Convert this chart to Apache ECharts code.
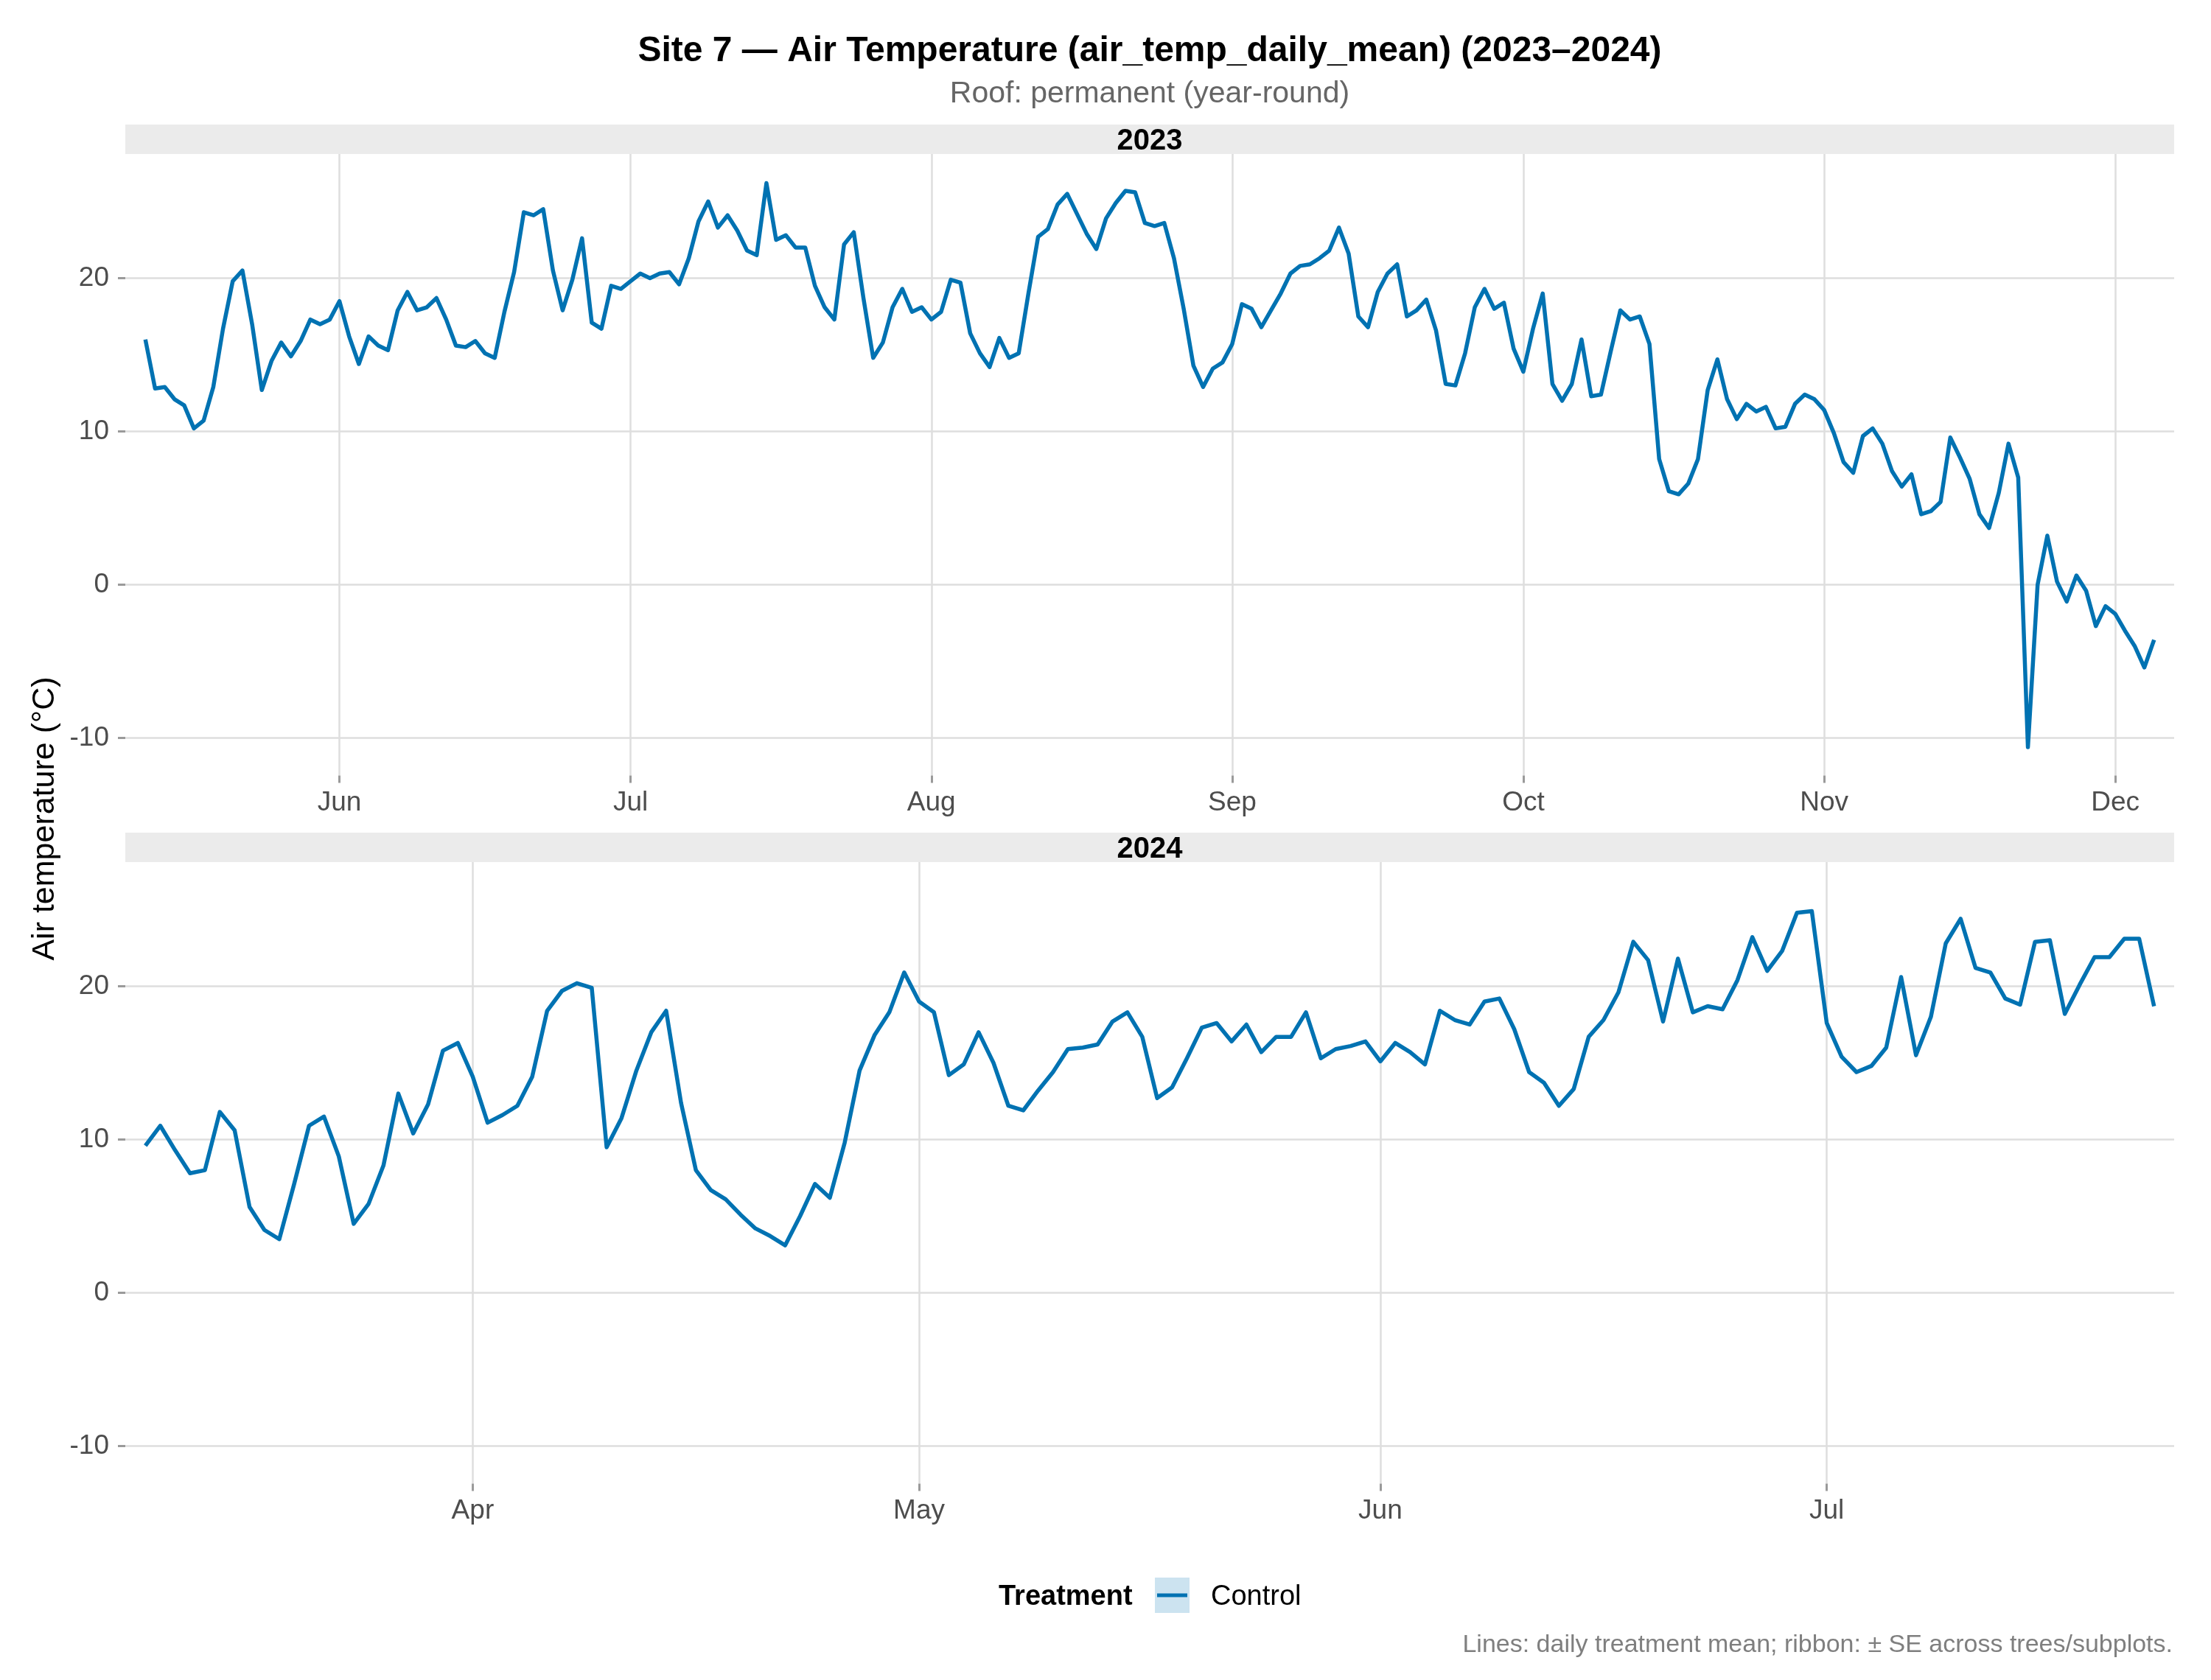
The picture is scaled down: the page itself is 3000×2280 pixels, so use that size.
<!DOCTYPE html>
<html>
<head>
<meta charset="utf-8">
<title>Site 7 - Air Temperature</title>
<script src="https://cdn.jsdelivr.net/npm/echarts@6/dist/echarts.min.js"></script>
<style>
  html, body { margin: 0; padding: 0; background: #fff; }
  #chart { width: 3000px; height: 2280px; }
</style>
</head>
<body>
<div id="chart"></div>
<script>
// daily treatment mean (Control), one value per day from the start date
const start2023 = '2023-05-12'
const temp2023 = [
  16.0, 12.8, 12.9, 12.1, 11.7, 10.2, 10.7, 12.9, 16.7, 19.8,
  20.5, 17.0, 12.7, 14.6, 15.8, 14.9, 15.9, 17.3, 17.0, 17.3,
  18.5, 16.2, 14.4, 16.2, 15.6, 15.3, 17.9, 19.1, 17.9, 18.1,
  18.7, 17.3, 15.6, 15.5, 15.9, 15.1, 14.8, 17.8, 20.4, 24.3,
  24.1, 24.5, 20.5, 17.9, 19.9, 22.6, 17.1, 16.7, 19.5, 19.3,
  19.8, 20.3, 20.0, 20.3, 20.4, 19.6, 21.3, 23.7, 25.0, 23.3,
  24.1, 23.1, 21.8, 21.5, 26.2, 22.5, 22.8, 22.0, 22.0, 19.5,
  18.1, 17.3, 22.2, 23.0, 18.7, 14.8, 15.8, 18.1, 19.3, 17.8,
  18.1, 17.3, 17.8, 19.9, 19.7, 16.4, 15.1, 14.2, 16.1, 14.8,
  15.1, 19.0, 22.7, 23.2, 24.8, 25.5, 24.2, 22.9, 21.9, 23.9,
  24.9, 25.7, 25.6, 23.6, 23.4, 23.6, 21.3, 18.0, 14.3, 12.9,
  14.1, 14.5, 15.7, 18.3, 18.0, 16.8, 17.9, 19.0, 20.3, 20.8,
  20.9, 21.3, 21.8, 23.3, 21.6, 17.5, 16.8, 19.1, 20.3, 20.9,
  17.5, 17.9, 18.6, 16.6, 13.1, 13.0, 15.1, 18.1, 19.3, 18.0,
  18.4, 15.4, 13.9, 16.7, 19.0, 13.1, 12.0, 13.1, 16.0, 12.3,
  12.4, 15.2, 17.9, 17.3, 17.5, 15.7, 8.2, 6.1, 5.9, 6.6,
  8.2, 12.7, 14.7, 12.1, 10.8, 11.8, 11.3, 11.6, 10.2, 10.3,
  11.8, 12.4, 12.1, 11.4, 9.9, 8.0, 7.3, 9.7, 10.2, 9.2,
  7.4, 6.4, 7.2, 4.6, 4.8, 5.4, 9.6, 8.3, 6.9, 4.6,
  3.7, 6.0, 9.2, 7.0, -10.6, 0.0, 3.2, 0.2, -1.1, 0.6,
  -0.4, -2.7, -1.4, -1.9, -3.0, -4.0, -5.4, -3.6
]

const start2024 = '2024-03-10'
const temp2024 = [
  9.6, 10.9, 9.3, 7.8, 8.0, 11.8, 10.6, 5.6, 4.1, 3.5,
  7.1, 10.9, 11.5, 8.9, 4.5, 5.8, 8.3, 13.0, 10.4, 12.3,
  15.8, 16.3, 14.1, 11.1, 11.6, 12.2, 14.1, 18.4, 19.7, 20.2,
  19.9, 9.5, 11.4, 14.5, 17.0, 18.4, 12.4, 8.0, 6.7, 6.1,
  5.1, 4.2, 3.7, 3.1, 5.0, 7.1, 6.2, 9.8, 14.5, 16.8,
  18.3, 20.9, 19.0, 18.3, 14.2, 14.9, 17.0, 15.0, 12.2, 11.9,
  13.2, 14.4, 15.9, 16.0, 16.2, 17.7, 18.3, 16.7, 12.7, 13.4,
  15.3, 17.3, 17.6, 16.4, 17.5, 15.7, 16.7, 16.7, 18.3, 15.3,
  15.9, 16.1, 16.4, 15.1, 16.3, 15.7, 14.9, 18.4, 17.8, 17.5,
  19.0, 19.2, 17.2, 14.4, 13.7, 12.2, 13.3, 16.7, 17.8, 19.6,
  22.9, 21.7, 17.7, 21.8, 18.3, 18.7, 18.5, 20.4, 23.2, 21.0,
  22.3, 24.8, 24.9, 17.6, 15.4, 14.4, 14.8, 16.0, 20.6, 15.5,
  18.0, 22.8, 24.4, 21.2, 20.9, 19.2, 18.8, 22.9, 23.0, 18.2,
  20.1, 21.9, 21.9, 23.1, 23.1, 18.7
]

const monthTicks2023 = ['2023-06-01', '2023-07-01', '2023-08-01', '2023-09-01', '2023-10-01', '2023-11-01', '2023-12-01']
const monthTicks2024 = ['2024-04-01', '2024-05-01', '2024-06-01', '2024-07-01']
const yTicks = [-10, 0, 10, 20]
const monthNames = ['Jan', 'Feb', 'Mar', 'Apr', 'May', 'Jun', 'Jul', 'Aug', 'Sep', 'Oct', 'Nov', 'Dec']

const FONT = 'Liberation Sans'
const BLUE = '#0072B2'
const GRID_COLOR = '#DEDEDE'
const TICK_COLOR = '#9A9A9A'
const LABEL_COLOR = '#4D4D4D'

function toTime(s) {
  const p = s.split('-').map(Number)
  return new Date(p[0], p[1] - 1, p[2]).getTime()
}

function dailySeries(start, values) {
  const first = new Date(toTime(start))
  return values.map((v, i) => {
    const d = new Date(first.getFullYear(), first.getMonth(), first.getDate() + i)
    return [d.getTime(), v]
  })
}

const panels = [
  { label: '2023', data: dailySeries(start2023, temp2023), ticks: monthTicks2023, top: 209 },
  { label: '2024', data: dailySeries(start2024, temp2024), ticks: monthTicks2024, top: 1170 }
]
const PANEL_LEFT = 170
const PANEL_WIDTH = 2780
const PANEL_HEIGHT = 843.5
const STRIP_HEIGHT = 40

const chart = echarts.init(document.getElementById('chart'), null, { renderer: 'canvas' })

const grid = []
const xAxis = []
const yAxis = []
const series = []
const graphic = []

panels.forEach((p, i) => {
  const first = p.data[0][0]
  const last = p.data[p.data.length - 1][0]
  const pad = (last - first) * 0.01
  const tickTimes = p.ticks.map(toTime)

  grid.push({ left: PANEL_LEFT, width: PANEL_WIDTH, top: p.top, height: PANEL_HEIGHT, containLabel: false })

  // dates kept as numeric timestamps on a value axis, labelled by month
  xAxis.push({
    type: 'value',
    gridIndex: i,
    position: 'bottom',
    min: first - pad,
    max: last + pad,
    axisLine: { show: false, onZero: false },
    axisTick: { show: true, customValues: tickTimes, length: 10, lineStyle: { color: TICK_COLOR, width: 3 } },
    axisLabel: {
      customValues: tickTimes,
      formatter: (v) => monthNames[new Date(v).getMonth()],
      fontFamily: FONT,
      fontSize: 37,
      color: LABEL_COLOR,
      margin: 19,
      hideOverlap: false
    },
    splitLine: { show: true, lineStyle: { color: GRID_COLOR, width: 2.5 } }
  })

  yAxis.push({
    type: 'value',
    gridIndex: i,
    position: 'left',
    min: -12.45,
    max: 28.1,
    axisLine: { show: false, onZero: false },
    axisTick: { show: true, customValues: yTicks, length: 10, lineStyle: { color: TICK_COLOR, width: 3 } },
    axisLabel: {
      customValues: yTicks,
      fontFamily: FONT,
      fontSize: 37,
      color: LABEL_COLOR,
      margin: 22
    },
    splitLine: { show: true, lineStyle: { color: GRID_COLOR, width: 2.5 } }
  })

  series.push({
    name: 'Control',
    type: 'line',
    xAxisIndex: i,
    yAxisIndex: i,
    data: p.data,
    showSymbol: false,
    symbol: 'none',
    lineStyle: { color: BLUE, width: 5.5, join: 'round', cap: 'butt' },
    itemStyle: { color: BLUE },
    z: 3
  })

  // facet strip
  graphic.push({
    type: 'rect',
    shape: { x: PANEL_LEFT, y: p.top - STRIP_HEIGHT, width: PANEL_WIDTH, height: STRIP_HEIGHT },
    style: { fill: '#EBEBEB' },
    silent: true
  })
  graphic.push({
    type: 'text',
    x: PANEL_LEFT + PANEL_WIDTH / 2,
    y: p.top - STRIP_HEIGHT / 2 + 3,
    style: {
      text: p.label, fontFamily: FONT, fontSize: 40, fontWeight: 'bold', fill: '#000',
      align: 'center', verticalAlign: 'middle', textAlign: 'center', textVerticalAlign: 'middle'
    },
    silent: true
  })
})

function label(x, y, text, size, opts) {
  return Object.assign({
    type: 'text',
    x: x,
    y: y,
    silent: true,
    style: Object.assign({
      text: text, fontFamily: FONT, fontSize: size, fill: '#000',
      align: 'center', verticalAlign: 'middle', textAlign: 'center', textVerticalAlign: 'middle'
    }, opts && opts.style)
  }, opts && opts.el)
}

graphic.push(label(1560, 70, 'Site 7 \u2014 Air Temperature (air_temp_daily_mean) (2023\u20132024)', 48, { style: { fontWeight: 'bold' } }))
graphic.push(label(1560, 128, 'Roof: permanent (year-round)', 41, { style: { fill: '#666666' } }))
graphic.push(label(61, 1111, 'Air temperature (\u00b0C)', 43, { el: { rotation: Math.PI / 2 } }))

// legend: ribbon fill behind the line, like the ggplot key
graphic.push(label(1355, 2168, 'Treatment', 38, { style: { fontWeight: 'bold', align: 'left', textAlign: 'left' } }))
graphic.push({ type: 'rect', shape: { x: 1567, y: 2141, width: 47, height: 48 }, style: { fill: '#CCE3F0' }, silent: true })
graphic.push({ type: 'line', shape: { x1: 1570, y1: 2165, x2: 1611, y2: 2165 }, style: { stroke: BLUE, lineWidth: 5 }, silent: true })
graphic.push(label(1643, 2168, 'Control', 38, { style: { align: 'left', textAlign: 'left' } }))

graphic.push(label(2948, 2233, 'Lines: daily treatment mean; ribbon: \u00b1 SE across trees/subplots.', 34,
  { style: { fill: '#7F7F7F', align: 'right', textAlign: 'right' } }))

chart.setOption({
  animation: false,
  backgroundColor: '#fff',
  grid: grid,
  xAxis: xAxis,
  yAxis: yAxis,
  series: series,
  graphic: graphic
})
</script>
</body>
</html>
